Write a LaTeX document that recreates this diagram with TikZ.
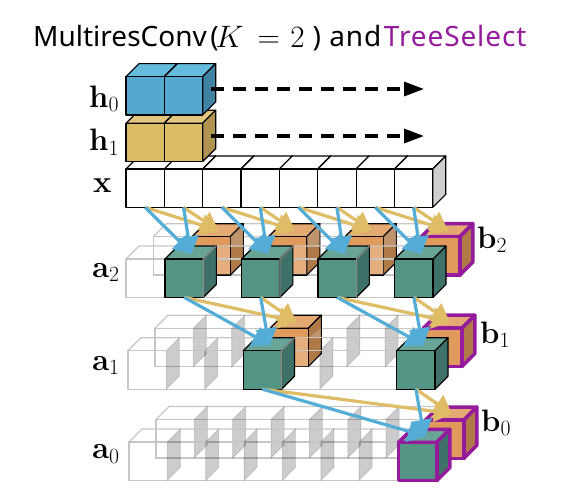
\documentclass[tikz,border=0pt]{standalone}
\usepackage{fix-cm}
\usepackage[no-math]{fontspec}
\setmainfont{Noto Sans}
\usetikzlibrary{arrows.meta}
\definecolor{blueF}{HTML}{54A9D1}\definecolor{blueT}{HTML}{64BBDB}\definecolor{blueS}{HTML}{3F82A3}
\definecolor{goldF}{HTML}{DCBB65}\definecolor{goldT}{HTML}{E2C67E}\definecolor{goldS}{HTML}{AE9450}
\definecolor{tealF}{HTML}{549485}\definecolor{tealT}{HTML}{69A597}\definecolor{tealS}{HTML}{3E7268}
\definecolor{orngF}{HTML}{E09A5C}\definecolor{orngT}{HTML}{E5A973}\definecolor{orngS}{HTML}{B07A48}
\definecolor{whiteF}{HTML}{FFFFFF}\definecolor{whiteT}{HTML}{FFFFFF}\definecolor{whiteS}{HTML}{FFFFFF}
\definecolor{lastF}{HTML}{FFFFFF}\definecolor{lastT}{HTML}{FFFFFF}\definecolor{lastS}{HTML}{CFCFCF}
\definecolor{tselect}{HTML}{951A9C}
\definecolor{arrowblue}{HTML}{54ADD6}\definecolor{arrowgold}{HTML}{DFBD66}
\definecolor{wire}{HTML}{C6C6C6}
\newcommand{\cw}{38.35}
\newcommand{\cd}{13}
% name, x, y, scheme, edge style
\newcommand{\mycube}[5]{%
  \path[fill=#4T,#5] (#2,#3) -- (#2+\cd,#3-\cd) -- (#2+\cw+\cd,#3-\cd) -- (#2+\cw,#3) -- cycle;
  \path[fill=#4S,#5] (#2+\cw,#3) -- (#2+\cw+\cd,#3-\cd) -- (#2+\cw+\cd,#3+\cw-\cd) -- (#2+\cw,#3+\cw) -- cycle;
  \path[fill=#4F,#5] (#2,#3) rectangle (#2+\cw,#3+\cw);
  \coordinate (#1-t) at (#2+\cw/2+\cd/2,#3-\cd/2);
  \coordinate (#1-b) at (#2+\cw/2,#3+\cw);
}
% x, y, cells : gray outline of a row
\newcommand{\wirerow}[3]{%
  \draw[wireline] (#1,#2) rectangle (#1+#3*\cw,#2+\cw);
  \draw[wireline] (#1,#2) -- (#1+\cd,#2-\cd) -- (#1+#3*\cw+\cd,#2-\cd);
}
% x, y: partition with fill
\newcommand{\wall}[3]{%
  \path[#3] (#1,#2) -- (#1+\cd,#2-\cd) -- (#1+\cd,#2+\cw-\cd) -- (#1,#2+\cw) -- cycle;
}
\tikzset{
  blk/.style={draw=black,line width=1.15pt,line join=round},
  sel/.style={draw=tselect,line width=3.5pt,line join=round},
  wireline/.style={draw=wire,line width=1.3pt},
  wallA/.style={fill=black,fill opacity=.2,draw=black,draw opacity=.12,line width=1pt},
  wallB/.style={draw=wire,line width=1.2pt},
  grayedge/.style={draw=black!45,line width=1.25pt},
  veil/.style={fill=white,fill opacity=.2},
  arrb/.style={draw=arrowblue,line width=3.2pt,-{Triangle[length=18pt,width=21pt]},fill=arrowblue,shorten >=-2pt},
  arrg/.style={draw=arrowgold,line width=3.2pt,-{Triangle[length=18pt,width=21pt]},fill=arrowgold,shorten >=-1pt},
  dasharrow/.style={draw=black,line width=3.2pt,dash pattern=on 13pt off 9pt,-{Triangle[length=20pt,width=14pt]}},
  lab/.style={anchor=base west,inner sep=0pt,font=\fontsize{31}{36}\selectfont},
  ttl/.style={anchor=base west,inner sep=0pt,font=\fontsize{28}{34}\selectfont}
}
\begin{document}
\begin{tikzpicture}[x=1pt,y=-1pt]
\useasboundingbox (0,0) rectangle (564,490);
\node[ttl] (title) at (33,46) {MultiresConv\kern3.5pt(\kern-3pt\raisebox{-1.5pt}{\fontsize{31}{36}\selectfont$K\,=\hspace{2pt}2$}\kern8pt{\addfontfeature{LetterSpace=3.2}) and \kern-5.5pt\textcolor{tselect}{TreeSelect}}};

% input row and hidden rows
\foreach \i in {0,...,6}{\mycube{x\i}{126+\i*\cw}{169}{white}{blk}}
\mycube{x7}{126+7*\cw}{169}{last}{blk}
\mycube{hb0}{126}{123.2}{gold}{blk}
\mycube{hb1}{126+\cw}{123.2}{gold}{blk}
\mycube{ha0}{126}{76.6}{blue}{blk}
\mycube{ha1}{126+\cw}{76.6}{blue}{blk}
\coordinate (d0s) at (211,89); \coordinate (d0e) at (424,89);
\coordinate (d1s) at (211,136); \coordinate (d1e) at (424,136);
\draw[dasharrow] (d0s) -- (d0e);
\draw[dasharrow] (d1s) -- (d1e);

% level a0
\wirerow{156}{419.5}{7}
\foreach \i in {1,...,6}{\wall{156+\i*\cw}{419.5}{wallA}}
\wirerow{129}{442}{7}
\foreach \i in {1,...,6}{\wall{129+\i*\cw}{442}{wallA}}
\mycube{o00}{425.5}{420}{orng}{sel}
\mycube{t00}{398.5}{442.3}{teal}{sel}

% level a1
\wirerow{155}{328.3}{7}
\foreach \i in {1,2,4,5,6}{\wall{155+\i*\cw}{328.3}{wallA}}
\wirerow{128}{350.8}{7}
\mycube{o10}{270}{328.2}{orng}{blk}
\path[veil] (294.5,338) rectangle (308.4,366.5);
\path[veil] (308.4,338) -- (321,338) -- (321,328) -- (308.4,338) -- cycle;
\foreach \i in {1,2,4,5}{\wall{128+\i*\cw}{350.8}{wallA}}
\draw[wireline] (128,350.8) -- (434,350.8);
\draw[wireline] (141,337.8) -- (447,337.8);
\mycube{o11}{423.5}{328.2}{orng}{sel}
\mycube{t10}{243.2}{350.8}{teal}{blk}
\draw[grayedge] (281.55,389.1) -- (281.55,350.8) -- (294.55,337.8);
\mycube{t11}{396.7}{350.8}{teal}{blk}

% level a2
\wirerow{153.3}{236.7}{8}
\foreach \i in {1,...,7}{\wall{153.3+\i*\cw}{236.7}{wallB}}
\mycube{o20}{192}{236.7}{orng}{blk}
\mycube{o21}{268.5}{236.7}{orng}{blk}
\mycube{o22}{345}{236.7}{orng}{blk}
\foreach \q in {0,1,2}{
  \path[veil] (216+\q*76.6,246.5) rectangle (230.3+\q*76.6,275);
  \path[veil] (230.3+\q*76.6,246.5) -- (243.3+\q*76.6,246.5) -- (243.3+\q*76.6,224) -- (230.3+\q*76.6,236.7) -- cycle;
}
\mycube{o23}{421.5}{236.7}{orng}{sel}
\wirerow{126}{259}{8}
\mycube{t20}{165}{259}{teal}{blk}
\mycube{t21}{241.5}{259}{teal}{blk}
\mycube{t22}{318}{259}{teal}{blk}
\mycube{t23}{394.7}{259}{teal}{blk}
\foreach \q in {0,1,2}{
  \draw[grayedge] (203.35+\q*76.6,297.3) -- (203.35+\q*76.6,259) -- (216.35+\q*76.6,246);
}

% arrows: input to a2
\foreach \s/\t in {x0/o20,x1/o20,x2/o21,x3/o21,x4/o22,x5/o22,x6/o23,x7/o23}{\draw[arrg] (\s-b) -- (\t-t);}
\foreach \s/\t in {x0/t20,x1/t20,x2/t21,x3/t21,x4/t22,x5/t22,x6/t23,x7/t23}{\draw[arrb] (\s-b) -- (\t-t);}
% a2 to a1
\foreach \s/\t in {t20/o10,t21/o10,t22/o11,t23/o11}{\draw[arrg] (\s-b) -- (\t-t);}
\foreach \s/\t in {t20/t10,t21/t10,t22/t11,t23/t11}{\draw[arrb] (\s-b) -- (\t-t);}
% a1 to a0
\foreach \s/\t in {t10/o00,t11/o00}{\draw[arrg] (\s-b) -- (\t-t);}
\foreach \s/\t in {t10/t00,t11/t00}{\draw[arrb] (\s-b) -- (\t-t);}

% labels
\node[lab] (lh0) at (89,107) {$\mathbf{h}_0$};
\node[lab] (lh1) at (89,150.5) {$\mathbf{h}_1$};
\node[lab] (lx) at (93,192) {$\mathbf{x}$};
\node[lab] (la2) at (92,277) {$\mathbf{a}_2$};
\node[lab] (la1) at (92,370) {$\mathbf{a}_1$};
\node[lab] (la0) at (92,458.5) {$\mathbf{a}_0$};
\node[lab] (lb2) at (477,248) {$\mathbf{b}_2$};
\node[lab] (lb1) at (480,343) {$\mathbf{b}_1$};
\node[lab] (lb0) at (481,431) {$\mathbf{b}_0$};
\end{tikzpicture}
\end{document}
